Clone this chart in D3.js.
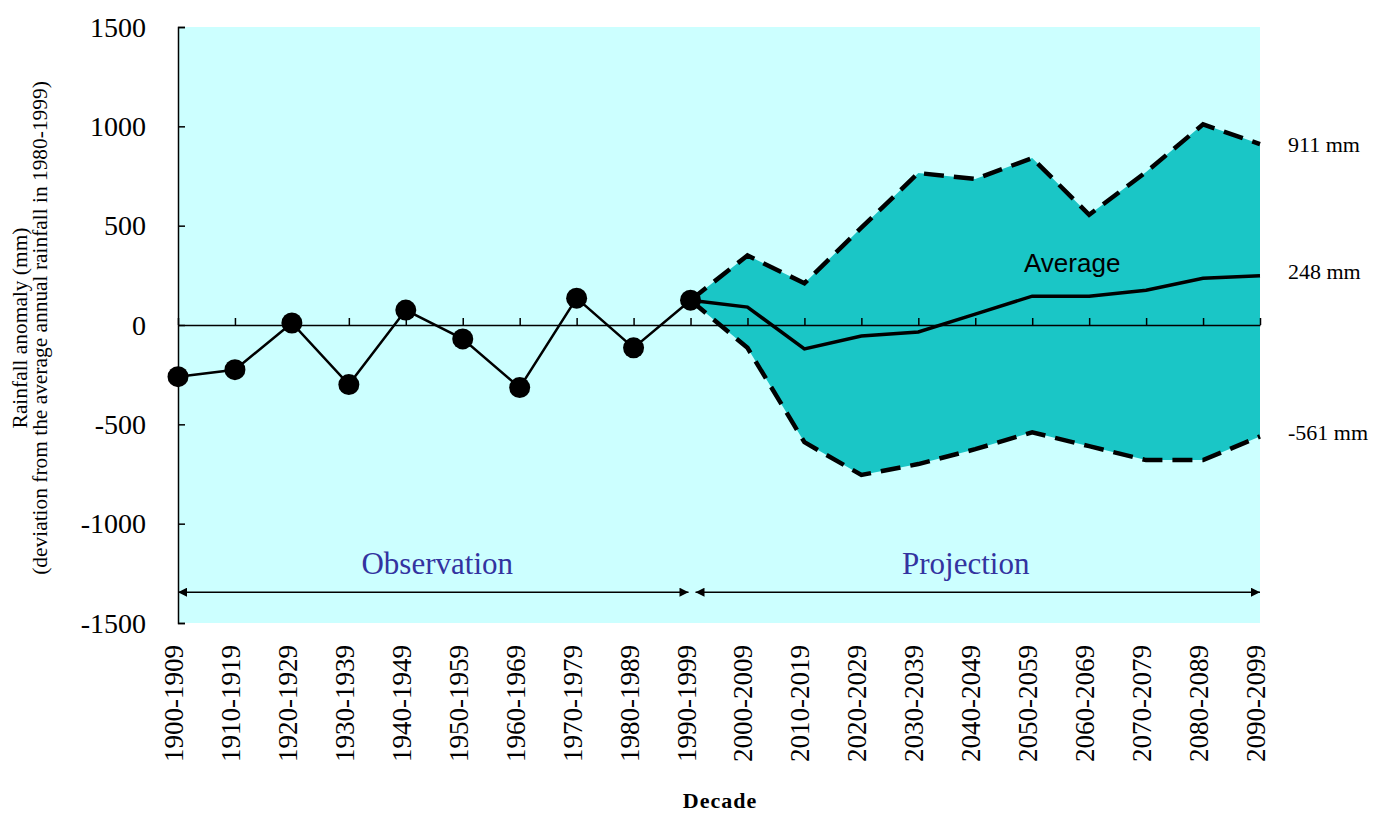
<!DOCTYPE html>
<html>
<head>
<meta charset="utf-8">
<script src="https://cdn.jsdelivr.net/npm/d3@7"></script>
<style>
    body { margin: 0; background: #ffffff; }
    svg text { font-family: "Liberation Serif", "Times New Roman", serif; }
</style>
</head>
<body>
<div id="canvas"></div>
<script>
"use strict";

/* ---------------- DATA ---------------- */

let decades = [
    "1900-1909", "1910-1919", "1920-1929", "1930-1939", "1940-1949",
    "1950-1959", "1960-1969", "1970-1979", "1980-1989", "1990-1999",
    "2000-2009", "2010-2019", "2020-2029", "2030-2039", "2040-2049",
    "2050-2059", "2060-2069", "2070-2079", "2080-2089", "2090-2099"
];

let obsDecades = decades.slice(0, 10);
let observed = [-260, -225, 10, -300, 75, -70, -315, 135, -115, 125];

let projDecades = decades.slice(9);
let projHigh = [125, 350, 210, 490, 765, 735, 840, 555, 770, 1010, 911];
let projLow = [125, -115, -590, -755, -700, -625, -540, -610, -680, -680, -561];
let projAvg = [125, 90, -120, -55, -35, 55, 145, 145, 175, 235, 248];

let yTicks = [-1500, -1000, -500, 0, 500, 1000, 1500];

let endLabels = ["911 mm", "248 mm", "-561 mm"];

/* ---------------- SETUP ---------------- */

let svgWidth = 1375;
let svgHeight = 815;

let margin = { top: 27, right: 115, bottom: 192, left: 178 };

let svg = d3.select("#canvas")
    .append("svg")
    .attr("width", svgWidth)
    .attr("height", svgHeight);

let xScale = d3.scalePoint()
    .domain(decades)
    .range([margin.left, svgWidth - margin.right]);

let yScale = d3.scaleLinear()
    .domain([-1500, 1500])
    .range([svgHeight - margin.bottom, margin.top]);

let x0 = xScale(decades[0]);
let x1 = xScale(decades[decades.length - 1]);

/* ---------------- PLOT BACKGROUND ---------------- */

svg.append("rect")
    .attr("x", x0)
    .attr("y", yScale(1500))
    .attr("width", x1 - x0)
    .attr("height", yScale(-1500) - yScale(1500))
    .attr("fill", "#ccffff");

/* ---------------- PROJECTION BAND ---------------- */

let projRows = projDecades.map(function (d, i) {
    return { decade: d, high: projHigh[i], low: projLow[i], avg: projAvg[i] };
});

let band = d3.area()
    .x(function (d) { return xScale(d.decade); })
    .y0(function (d) { return yScale(d.low); })
    .y1(function (d) { return yScale(d.high); });

svg.append("path")
    .datum(projRows)
    .attr("d", band)
    .attr("fill", "#1ac6c6");

/* ---------------- AXES ---------------- */

// left axis, ticks pointing into the plot
let yAxis = d3.axisRight(yScale)
    .tickValues(yTicks)
    .tickSize(7)
    .tickFormat("");

svg.append("g")
    .attr("transform", "translate(" + x0 + ",0)")
    .call(yAxis)
    .call(function (g) {
        g.select(".domain").attr("stroke", "#000").attr("stroke-width", 1.5);
        g.selectAll(".tick line").attr("stroke", "#000").attr("stroke-width", 1.5);
    });

svg.append("g")
    .selectAll("text")
    .data(yTicks)
    .join("text")
    .attr("x", 146)
    .attr("y", function (d) { return yScale(d); })
    .attr("dy", "0.34em")
    .attr("text-anchor", "end")
    .attr("font-size", "28px")
    .attr("fill", "#000")
    .text(function (d) { return d; });

// zero line with ticks pointing up
let xAxis = d3.axisTop(xScale)
    .tickSize(7)
    .tickSizeOuter(0)
    .tickFormat("");

svg.append("g")
    .attr("transform", "translate(0," + yScale(0) + ")")
    .call(xAxis)
    .call(function (g) {
        g.select(".domain").attr("stroke", "#000").attr("stroke-width", 1.5);
        g.selectAll(".tick line").attr("stroke", "#000").attr("stroke-width", 1.5);
    });

// decade labels under the plot
svg.append("g")
    .selectAll("text")
    .data(decades)
    .join("text")
    .attr("transform", function (d) {
        return "translate(" + (xScale(d) + 5) + ",645) rotate(-90)";
    })
    .attr("text-anchor", "end")
    .attr("font-size", "27px")
    .attr("fill", "#000")
    .text(function (d) { return d; });

/* ---------------- LINES ---------------- */

let avgLine = d3.line()
    .x(function (d) { return xScale(d.decade); })
    .y(function (d) { return yScale(d.avg); });

svg.append("path")
    .datum(projRows)
    .attr("d", avgLine)
    .attr("fill", "none")
    .attr("stroke", "#000")
    .attr("stroke-width", 3.5);

["high", "low"].forEach(function (key) {
    let edge = d3.line()
        .x(function (d) { return xScale(d.decade); })
        .y(function (d) { return yScale(d[key]); });

    svg.append("path")
        .datum(projRows)
        .attr("d", edge)
        .attr("fill", "none")
        .attr("stroke", "#000")
        .attr("stroke-width", 4.5)
        .attr("stroke-dasharray", "20,10");
});

let obsRows = obsDecades.map(function (d, i) {
    return { decade: d, value: observed[i] };
});

let obsLine = d3.line()
    .x(function (d) { return xScale(d.decade); })
    .y(function (d) { return yScale(d.value); });

svg.append("path")
    .datum(obsRows)
    .attr("d", obsLine)
    .attr("fill", "none")
    .attr("stroke", "#000")
    .attr("stroke-width", 2.5);

svg.append("g")
    .selectAll("circle")
    .data(obsRows)
    .join("circle")
    .attr("cx", function (d) { return xScale(d.decade); })
    .attr("cy", function (d) { return yScale(d.value); })
    .attr("r", 10.5)
    .attr("fill", "#000");

/* ---------------- PERIOD ARROWS ---------------- */

svg.append("defs").selectAll("marker")
    .data(["arrowHead"])
    .join("marker")
    .attr("id", function (d) { return d; })
    .attr("viewBox", "0 0 10 10")
    .attr("refX", 10)
    .attr("refY", 5)
    .attr("markerWidth", 10)
    .attr("markerHeight", 9)
    .attr("markerUnits", "userSpaceOnUse")
    .attr("orient", "auto-start-reverse")
    .append("path")
    .attr("d", "M0,0 L10,5 L0,10 Z")
    .attr("fill", "#000");

let arrowY = yScale(-1345);
let splitX = xScale("1990-1999");

let periods = [
    { name: "Observation", from: x0, to: splitX - 2, shift: 4 },
    { name: "Projection", from: splitX + 5, to: x1, shift: -12 }
];

periods.forEach(function (p) {
    svg.append("line")
        .attr("x1", p.from)
        .attr("x2", p.to)
        .attr("y1", arrowY)
        .attr("y2", arrowY)
        .attr("stroke", "#000")
        .attr("stroke-width", 1.5)
        .attr("marker-start", "url(#arrowHead)")
        .attr("marker-end", "url(#arrowHead)");

    svg.append("text")
        .attr("x", (p.from + p.to) / 2 + p.shift)
        .attr("y", arrowY - 18)
        .attr("text-anchor", "middle")
        .attr("font-size", "31px")
        .attr("fill", "#3333a0")
        .text(p.name);
});

/* ---------------- LABELS ---------------- */

svg.append("text")
    .attr("x", 1024)
    .attr("y", 272)
    .style("font-family", "'Liberation Sans', Arial, sans-serif")
    .attr("font-size", "26px")
    .attr("fill", "#000")
    .text("Average");

let lastIdx = projRows.length - 1;
let endValues = [projHigh[lastIdx], projAvg[lastIdx], projLow[lastIdx]];
let endShift = [8, 3, 4];

svg.append("g")
    .selectAll("text")
    .data(endLabels)
    .join("text")
    .attr("x", 1288)
    .attr("y", function (d, i) { return yScale(endValues[i]) + endShift[i]; })
    .attr("font-size", "22px")
    .attr("fill", "#000")
    .text(function (d) { return d; });

// axis titles
let yTitle = svg.append("text")
    .attr("transform", "translate(0,328) rotate(-90)")
    .attr("text-anchor", "middle")
    .attr("font-size", "21.4px")
    .attr("fill", "#000");

yTitle.append("tspan")
    .attr("x", 0)
    .attr("y", 27)
    .text("Rainfall anomaly (mm)");

yTitle.append("tspan")
    .attr("x", 0)
    .attr("y", 47)
    .text("(deviation from the average annual rainfall in 1980-1999)");

svg.append("text")
    .attr("x", 720)
    .attr("y", 808)
    .attr("text-anchor", "middle")
    .attr("font-size", "22px")
    .attr("font-weight", "bold")
    .attr("letter-spacing", "1px")
    .attr("fill", "#000")
    .text("Decade");
</script>
</body>
</html>
